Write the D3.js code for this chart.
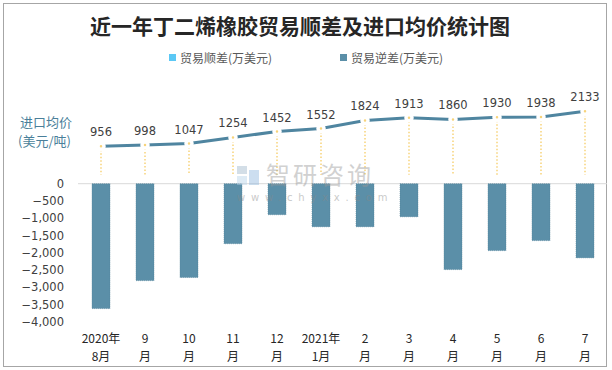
<!DOCTYPE html>
<html><head><meta charset="utf-8">
<script src="https://cdn.jsdelivr.net/npm/d3@7"></script>
<style>body{margin:0;background:#fff}svg{display:block}</style>
</head><body>
<svg id="c" width="612" height="370"></svg>
<script>
const months1 = ["2020年","9","10","11","12","2021年","2","3","4","5","6","7"];
const months2 = ["8月","月","月","月","月","1月","月","月","月","月","月","月"];
const balance = [-3620,-2810,-2720,-1740,-900,-1250,-1250,-960,-2490,-1940,-1650,-2150];
const price = [956,998,1047,1254,1452,1552,1824,1913,1860,1930,1938,2133];
const yTicks = [0,-500,-1000,-1500,-2000,-2500,-3000,-3500,-4000];

const svg = d3.select("#c");
const font = "'Noto Sans CJK SC','Noto Sans',sans-serif";
svg.append("rect").attr("x",3.5).attr("y",3.5).attr("width",603).attr("height",363)
  .attr("fill","#fff").attr("stroke","#a6a6a6");

svg.append("text").attr("x",300).attr("y",34).attr("text-anchor","middle")
  .attr("font-family",font).attr("font-weight","bold").attr("font-size",21).attr("fill","#262626")
  .text("近一年丁二烯橡胶贸易顺差及进口均价统计图");

// legend
const leg = [{t:"贸易顺差(万美元)",c:"#5bc8f5",x:169},{t:"贸易逆差(万美元)",c:"#5b8fa8",x:340}];
leg.forEach(l=>{
  svg.append("rect").attr("x",l.x).attr("y",54).attr("width",7).attr("height",7).attr("fill",l.c);
  svg.append("text").attr("x",l.x+11).attr("y",62.5).attr("font-family",font).attr("font-size",12)
    .attr("fill","#595959").text(l.t);
});

const idx = d3.range(12);
const x = d3.scaleBand().domain(idx).range([79,607]).paddingInner(0.59).paddingOuter(0.295);
const y = d3.scaleLinear().domain([-4000,0]).range([321.7,183.7]);
const yl = d3.scaleLinear().domain([0,2500]).range([174.7,100.4]);

// y axis
const ya = svg.append("g").attr("transform","translate(66,0)")
  .call(d3.axisLeft(y).tickValues(yTicks).tickSize(0).tickPadding(2).tickFormat(d3.format(",")));
ya.select(".domain").remove();
ya.selectAll("text").attr("font-family","'DejaVu Sans',sans-serif").attr("font-size",11.5).attr("fill","#404040");

// y title
svg.append("text").attr("x",20).attr("y",127).attr("font-family",font).attr("font-size",13).attr("fill","#4a7f9a").text("进口均价");
svg.append("text").attr("x",18).attr("y",146).attr("font-family",font).attr("font-size",13).attr("fill","#4a7f9a").text("(美元/吨)");

// zero line
svg.append("line").attr("x1",78).attr("x2",607).attr("y1",y(0)).attr("y2",y(0)).attr("stroke","#d9d9d9").attr("stroke-width",1);

// bars
svg.append("g").selectAll("rect").data(idx).join("rect")
  .attr("x",i=>x(i)).attr("width",x.bandwidth())
  .attr("y",y(0)).attr("height",i=>y(balance[i])-y(0))
  .attr("fill","#5b8fa8").attr("stroke","#4f7f97").attr("stroke-width",0.5).attr("stroke-dasharray","1,1");

const cx = i=>x(i)+x.bandwidth()/2;
// drop lines
svg.append("g").selectAll("line").data(idx).join("line")
  .attr("x1",cx).attr("x2",cx).attr("y1",i=>yl(price[i])).attr("y2",yl(0))
  .attr("stroke","#f7d37a").attr("stroke-width",1.5).attr("stroke-dasharray","1.5,2");

// line
svg.append("path").datum(idx).attr("fill","none").attr("stroke","#4f85a0").attr("stroke-width",3)
  .attr("d",d3.line().x(cx).y(i=>yl(price[i])));
svg.append("g").selectAll("circle").data(idx).join("circle")
  .attr("cx",cx).attr("cy",i=>yl(price[i])).attr("r",3)
  .attr("fill","#f7d37a").attr("stroke","#fff").attr("stroke-width",3.5);

// labels
svg.append("g").selectAll("text").data(idx).join("text")
  .attr("x",cx).attr("y",i=>yl(price[i])-10).attr("text-anchor","middle")
  .attr("font-family","'DejaVu Sans',sans-serif").attr("font-size",11.5).attr("fill","#404040")
  .text(i=>price[i]);

// x labels
const xl = svg.append("g");
xl.selectAll("text.a").data(idx).join("text").attr("class","a")
  .attr("x",cx).attr("y",343).attr("text-anchor","middle").attr("font-family",font).attr("font-size",12).attr("fill","#262626")
  .text(i=>months1[i]);
xl.selectAll("text.b").data(idx).join("text").attr("class","b")
  .attr("x",cx).attr("y",361).attr("text-anchor","middle").attr("font-family",font).attr("font-size",12).attr("fill","#262626")
  .text(i=>months2[i]);

// watermark
const wm = svg.append("g").attr("opacity",0.45);
wm.append("rect").attr("x",237).attr("y",166).attr("width",10).attr("height",8).attr("fill","#9fb7cc");
wm.append("rect").attr("x",237).attr("y",176).attr("width",10).attr("height",9).attr("fill","#b8d3ea");
wm.append("rect").attr("x",249).attr("y",170).attr("width",10).attr("height",15).attr("fill","#8fb8de");
wm.append("text").attr("x",266).attr("y",184).attr("font-family",font).attr("font-size",24).attr("fill","#9a9a9a").attr("letter-spacing",3).text("智研咨询");
wm.append("text").attr("x",237).attr("y",201).attr("font-family","'DejaVu Sans',sans-serif").attr("font-size",10).attr("fill","#8a8a8a").attr("letter-spacing",5.8).text("www.chyxx.com");
</script>
</body></html>
